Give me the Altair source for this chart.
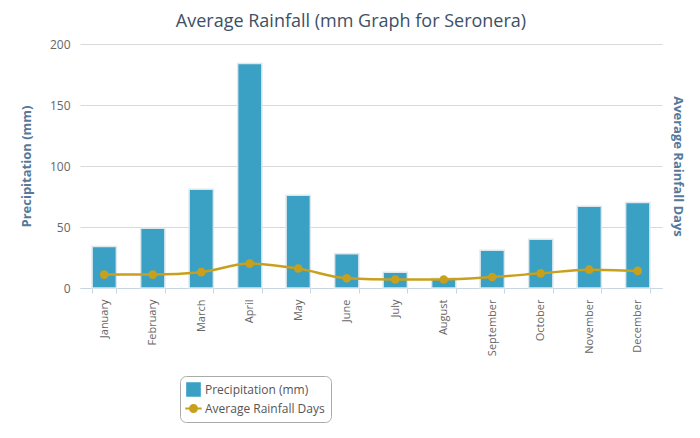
import altair as alt
import pandas as pd

months = ["January", "February", "March", "April", "May", "June", "July",
          "August", "September", "October", "November", "December"]
precip = [34, 49, 81, 184, 76, 28, 13, 8, 31, 40, 67, 70]
days = [11, 11, 13, 20, 16, 8, 7, 7, 9, 12, 15, 14]
series_names = ["Precipitation (mm)", "Average Rainfall Days"]
series_colors = ["#3aa0c4", "#c9a01c"]

df = pd.DataFrame({"month": months, "precip": precip, "days": days})

FONT = "Open Sans"
LINE_SYMBOL = "M-1.3,0L1.3,0M-0.55,0A0.55,0.55,0,1,1,0.55,0A0.55,0.55,0,1,1,-0.55,0Z"

x_axis = alt.Axis(labelAngle=-90, labelColor="#666666", labelFontSize=11,
                  labelFont=FONT, labelPadding=6, tickBand="extent",
                  tickSize=5, tickColor="#c8d4e0", domainColor="#c8d4e0",
                  grid=False, title=None)
x_scale = alt.Scale(paddingInner=0.5, paddingOuter=0.25)
x_enc = alt.X("month:N", sort=months, title=None, scale=x_scale, axis=x_axis)

left_axis = alt.Axis(values=[0, 50, 100, 150, 200], title="Precipitation (mm)",
                     gridColor="#d9d9d9", domain=False, ticks=False,
                     labelColor="#666666", labelFontSize=12, labelFont=FONT,
                     labelPadding=10, titleColor="#56799a", titleFont=FONT,
                     titleFontSize=13, titleFontWeight="bold", titlePadding=16)
right_axis = alt.Axis(orient="right", title="Average Rainfall Days", labels=False,
                      ticks=False, domain=False, grid=False, titleColor="#56799a",
                      titleFont=FONT, titleFontSize=13, titleFontWeight="bold",
                      titlePadding=8, titleAngle=90)

color_scale = alt.Scale(domain=series_names, range=series_colors)

base = alt.Chart(df)

bars = base.mark_bar(stroke="#dde8ee", strokeWidth=1.5).transform_calculate(
    series="'Precipitation (mm)'"
).encode(
    x=x_enc,
    y=alt.Y("precip:Q", scale=alt.Scale(domain=[0, 200]), axis=left_axis),
    color=alt.Color("series:N", scale=color_scale, legend=alt.Legend(title=None)),
)

legend_layer = base.mark_point(filled=True, size=0, strokeWidth=2).transform_calculate(
    series="'Average Rainfall Days'"
).encode(
    x=x_enc,
    y=alt.Y("precip:Q", scale=alt.Scale(domain=[0, 200]), axis=left_axis),
    color=alt.Color("series:N", scale=color_scale, legend=alt.Legend(title=None)),
    stroke=alt.Stroke("series:N", scale=alt.Scale(domain=series_names, range=series_colors),
                      legend=alt.Legend(title=None)),
    shape=alt.Shape("series:N", scale=alt.Scale(domain=series_names, range=["square", LINE_SYMBOL]),
                    legend=alt.Legend(title=None)),
)

line = base.mark_line(color="#c9a01c", strokeWidth=2.5, interpolate="monotone").encode(
    x=x_enc,
    y=alt.Y("days:Q", scale=alt.Scale(domain=[0, 200]), axis=right_axis),
)

points = base.mark_point(filled=True, color="#c9a01c", size=75, opacity=1).encode(
    x=x_enc,
    y=alt.Y("days:Q", scale=alt.Scale(domain=[0, 200]), axis=right_axis),
)

chart = alt.layer(
    alt.layer(bars, legend_layer),
    alt.layer(line, points),
).resolve_scale(y="independent").properties(
    width=582,
    height=244,
    autosize=alt.AutoSizeParams(type="none"),
    padding={"left": 72, "top": 36, "right": 30, "bottom": 140},
    title=alt.TitleParams("Average Rainfall (mm Graph for Seronera)", fontSize=18,
                          color="#3d5066", font=FONT, fontWeight="normal",
                          offset=7, dx=-20, anchor="middle"),
).configure_view(stroke=None).configure_legend(
    orient="none", legendX=100, legendY=332, strokeColor="#aaaaaa", cornerRadius=6,
    padding=6, fillColor="white", labelFont=FONT, labelFontSize=12,
    labelColor="#555555", symbolSize=160, symbolStrokeWidth=2, rowPadding=1,
    labelLimit=400,
)

chart.save("out.html", embed_options={"renderer": "svg", "actions": False})
